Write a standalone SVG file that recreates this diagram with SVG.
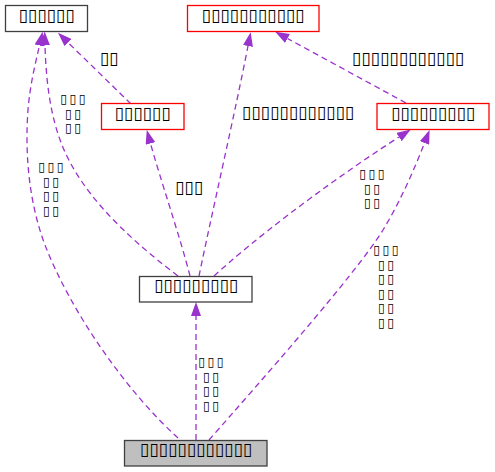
<svg xmlns="http://www.w3.org/2000/svg" width="495" height="472" viewBox="0 0 495 472">
<defs>
<style>
text{font-family:"DejaVu Sans","Liberation Sans",sans-serif;font-size:17px;fill:#000;text-anchor:middle}
text.m{font-size:12.3px;letter-spacing:2.5px}
.nb{fill:#fff;stroke:#404040;stroke-width:1.3}
.nr{fill:#fff;stroke:#ff0000;stroke-width:1.3}
.ng{fill:#bfbfbf;stroke:#404040;stroke-width:1.3}
.e{fill:none;stroke:#9a32cd;stroke-width:1.3;stroke-dasharray:6,4;marker-end:url(#ah)}
</style>
<marker id="ah" viewBox="0 0 14 10" refX="0" refY="5" markerWidth="14" markerHeight="10" markerUnits="userSpaceOnUse" orient="auto">
<path d="M0,0 L14,5 L0,10 z" fill="#9a32cd"/>
</marker>
</defs>
<rect width="495" height="472" fill="#fff"/>
<g id="edges">
<path class="e" d="M196,440 L196,316"/>
<path class="e" d="M209,440 C260,382 355,275 383,230 C400,202 414,170 424.5,143"/>
<path class="e" d="M214,276 C250,243 320,188 399,137"/>
<path class="e" d="M199,276 C210,222 236,108 248,46"/>
<path class="e" d="M190,276 C181,240 160,178 150.5,143.5"/>
<path class="e" d="M178,276 C120,232 80,190 62,145 C50,115 46,80 45,45.5"/>
<path class="e" d="M178,438 C125,390 70,310 45,245 C28,200 25,150 28,110 C30,85 35,65 39.5,45.5"/>
<path class="e" d="M131,104 L68,42.5"/>
<path class="e" d="M406,103 L287.5,38.5"/>
<text x="109" y="64">▯▯</text>
<text class="m" x="74.2" y="103">▯▯▯<tspan x="74.2" dy="14.5">▯▯</tspan><tspan x="74.2" dy="14.5">▯▯</tspan></text>
<text class="m" x="52.2" y="171">▯▯▯<tspan x="52.2" dy="14.7">▯▯</tspan><tspan x="52.2" dy="14.7">▯▯</tspan><tspan x="52.2" dy="14.7">▯▯</tspan></text>
<text x="189" y="193">▯▯▯</text>
<text x="298" y="118">▯▯▯▯▯▯▯▯▯▯▯▯</text>
<text x="408" y="64">▯▯▯▯▯▯▯▯▯▯▯▯</text>
<text class="m" x="373.2" y="178">▯▯▯<tspan x="373.2" dy="14.5">▯▯</tspan><tspan x="373.2" dy="14.5">▯▯</tspan></text>
<text class="m" x="387.2" y="254">▯▯▯<tspan x="387.2" dy="14.6">▯▯</tspan><tspan x="387.2" dy="14.6">▯▯</tspan><tspan x="387.2" dy="14.6">▯▯</tspan><tspan x="387.2" dy="14.6">▯▯</tspan><tspan x="387.2" dy="14.6">▯▯</tspan></text>
<text class="m" x="212.2" y="366">▯▯▯<tspan x="212.2" dy="14.7">▯▯</tspan><tspan x="212.2" dy="14.7">▯▯</tspan><tspan x="212.2" dy="14.7">▯▯</tspan></text>
</g>
<g id="nodeA"><rect class="nb" x="5.5" y="5.5" width="82" height="26"/><text x="46.5" y="21">▯▯▯▯▯▯</text></g>
<g id="nodeB"><rect class="nr" x="187.5" y="5.5" width="131.5" height="26"/><text x="253" y="21">▯▯▯▯▯▯▯▯▯▯▯</text></g>
<g id="nodeC"><rect class="nr" x="101.5" y="103.5" width="82.5" height="26"/><text x="142.5" y="119">▯▯▯▯▯▯</text></g>
<g id="nodeD"><rect class="nr" x="377" y="103.5" width="112" height="26"/><text x="433" y="119">▯▯▯▯▯▯▯▯▯</text></g>
<g id="nodeE"><rect class="nb" x="139.5" y="276.5" width="112.5" height="25.5"/><text x="196" y="291">▯▯▯▯▯▯▯▯▯</text></g>
<g id="nodeF"><rect class="ng" x="124.5" y="440.5" width="142.5" height="25.5"/><text x="196" y="455">▯▯▯▯▯▯▯▯▯▯▯▯</text></g>
</svg>
